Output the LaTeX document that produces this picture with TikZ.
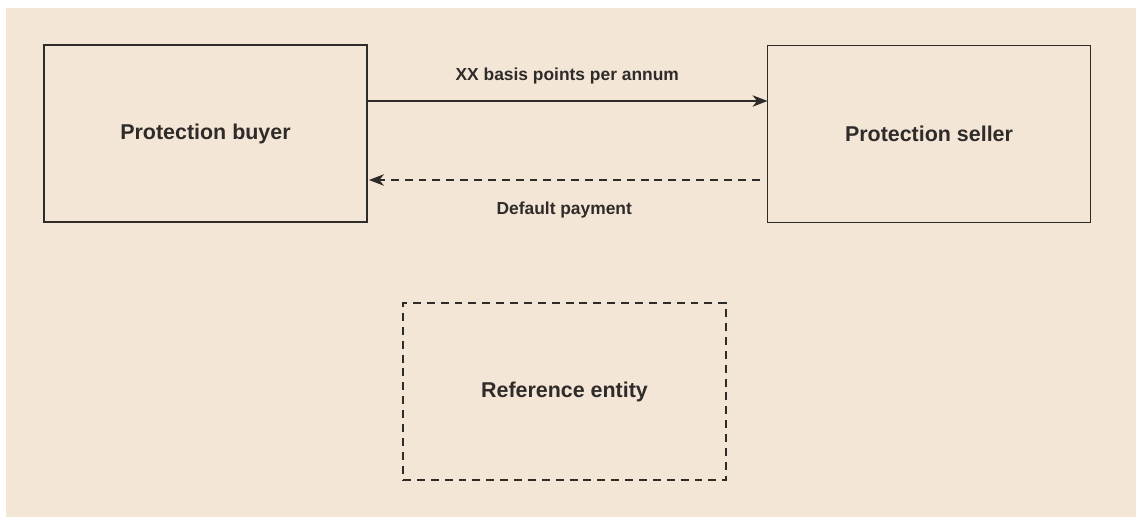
\documentclass[tikz,border=0pt]{standalone}
\usepackage{fontspec}
\setmainfont{Liberation Sans}
\usetikzlibrary{arrows.meta}
\definecolor{paper}{HTML}{F4E6D7}
\definecolor{ink}{HTML}{2E2B29}
\begin{document}
\begin{tikzpicture}[x=0.02cm, y=-0.02cm,
    main/.style = {draw=ink, line width=0.8pt, minimum width=6.46cm, minimum height=3.54cm,
                   inner sep=0pt, outer sep=0pt, font=\fontsize{12.2}{14}\selectfont\bfseries, text=ink},
    lbl/.style = {font=\fontsize{9.9}{11}\selectfont\bfseries, text=ink},
    flow/.style = {draw=ink, line width=0.8pt, -{Stealth[length=8.5pt, width=6.5pt, inset=2.5pt]}},
    dashline/.style = {dash pattern=on 4.5pt off 3.4pt}]
    % Fondo
    \useasboundingbox[fill=white] (0,0) rectangle (1136,517);
    \fill[paper] (6,8) rectangle (1136,517);

    % Partes
    \node[main] (buyer) at (205.5,133.5) {Protection buyer};
    \node[main] (seller) at (929,134) {Protection seller};

    % Entidad de referencia
    \node[main, dashline] (entity) at (564.5,391.5) {Reference entity};

    % Conexiones
    \draw[flow] (buyer.east |- 0,101) -- node[lbl, above=6pt] {XX basis points per annum} (seller.west |- 0,101);
    \draw[flow, dashline] ([xshift=-0.16cm]seller.west |- 0,180) -- node[lbl, below=9pt] {Default payment} ([xshift=0.04cm]buyer.east |- 0,180);
\end{tikzpicture}
\end{document}
